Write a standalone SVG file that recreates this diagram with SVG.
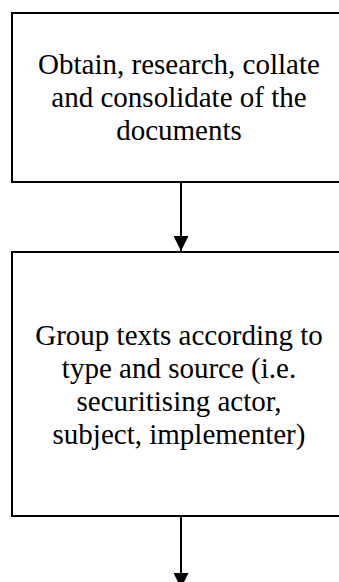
<svg xmlns="http://www.w3.org/2000/svg" width="339" height="582" viewBox="0 0 339 582">
  <style>
    .box { fill: #ffffff; stroke: #000000; stroke-width: 2; }
    .label { font-family: "Liberation Serif", "Times New Roman", serif; font-size: 29px; fill: #000000; text-anchor: middle; }
    .edge { stroke: #000000; stroke-width: 2; fill: none; }
  </style>
  <defs>
    <marker id="arrowhead" markerWidth="15" markerHeight="15" refX="15" refY="7.5" orient="auto" markerUnits="userSpaceOnUse">
      <path d="M0,0 L15,7.5 L0,15 Z" fill="#000000"/>
    </marker>
  </defs>
  <rect width="339" height="582" fill="#ffffff"/>

  <g id="node-obtain">
    <rect class="box" x="12" y="13" width="340" height="169"/>
    <text class="label" x="179" y="74">Obtain, research, collate</text>
    <text class="label" x="179" y="107">and consolidate of the</text>
    <text class="label" x="179" y="140">documents</text>
  </g>

  <g id="node-group">
    <rect class="box" x="12" y="252" width="340" height="264"/>
    <text class="label" x="179" y="345">Group texts according to</text>
    <text class="label" x="179" y="378">type and source (i.e.</text>
    <text class="label" x="179" y="411">securitising actor,</text>
    <text class="label" x="179" y="444">subject, implementer)</text>
  </g>

  <g id="connectors">
    <line class="edge" x1="181" y1="182" x2="181" y2="251" marker-end="url(#arrowhead)"/>
    <line class="edge" x1="181" y1="516" x2="181" y2="588" marker-end="url(#arrowhead)"/>
  </g>
</svg>
